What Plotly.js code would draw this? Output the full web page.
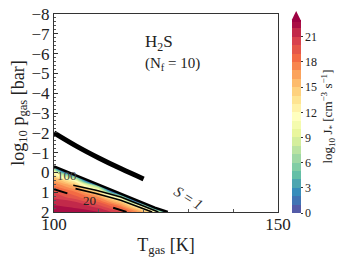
<!DOCTYPE html>
<html>
<head>
<meta charset="utf-8">
<script src="https://cdn.plot.ly/plotly-3.0.1.min.js"></script>
<style>html,body{margin:0;padding:0;background:#fff;}#chart{width:349px;height:262px;}</style>
</head>
<body>
<div id="chart"></div>
<script>
// Temperature grid [K] and log10 pressure grid [bar]
const tempGrid = [100, 105, 110, 115, 120, 122.5, 125, 130];
const pressGrid = [-0.75, -0.5, -0.25, 0, 0.25, 0.5, 0.75, 1, 1.25, 1.5, 1.75, 2];
// log10 J* (negative = no nucleation, masked)
const logJ = [
  [-27, -30, -30, -30, -30, -30, -30, -30],
  [-12, -30, -30, -30, -30, -30, -30, -30],
  [3, -25, -30, -30, -30, -30, -30, -30],
  [12, -10, -30, -30, -30, -30, -30, -30],
  [15, 5, -23, -30, -30, -30, -30, -30],
  [17, 12.9, -8, -30, -30, -30, -30, -30],
  [18.5, 16, 7.4, -21, -30, -30, -30, -30],
  [20, 18, 14, -6, -30, -30, -30, -30],
  [20.8, 19.3, 17, 9.1, -18.6, -30, -30, -30],
  [21.5, 21, 19, 15, -3.6, -17, -28, -30],
  [22.3, 21.8, 20.7, 18, 11.4, -1.8, -13, -30],
  [23, 22.6, 22.1, 20.1, 15.8, 12.6, 2.2, -27]
];
// edge of the nucleation region
const boundaryT = [100, 105, 110, 115, 120, 122.5, 125.4];
const boundaryP = [-0.3, 0.17, 0.63, 1.10, 1.56, 1.78, 2.0];
// thick black curve
const thickT = [100, 105, 110, 115, 120];
const thickP = [-2.0, -1.33, -0.73, -0.18, 0.33];
// inner contour lines
const lineAT = [104.3, 109.4, 114.9, 123.3];
const lineAP = [0.65, 0.9, 1.24, 2.0];
const lineBT = [104.8, 109.4, 114.9, 121.9];
const lineBP = [0.82, 1.07, 1.41, 2.0];
const dashT = [100, 116.3];
const dashP = [0.85, 2.0];
const cbTicks = [0, 3, 6, 9, 12, 15, 18, 21];

const serif = "Liberation Serif, DejaVu Serif, serif";
const spectralR = [[0,'#5e4fa2'],[0.1,'#3288bd'],[0.2,'#66c2a5'],[0.3,'#abdda4'],[0.4,'#e6f598'],[0.5,'#ffffbf'],[0.6,'#fee08b'],[0.7,'#fdae61'],[0.8,'#f46d43'],[0.9,'#d53e4f'],[1,'#9e0142']];

const px = v => (v - 54) / 228;
const py = v => (212 - v) / 198;

const traces = [
  {
    type: 'contour', x: tempGrid, y: pressGrid, z: logJ,
    colorscale: spectralR, zmin: 0, zmax: 23,
    contours: {coloring: 'fill', start: 0, end: 23, size: 1, showlines: false},
    line: {width: 0},
    hoverinfo: 'skip',
    colorbar: {
      thickness: 9, thicknessmode: 'pixels', len: 193, lenmode: 'pixels',
      x: px(296), xanchor: 'left', y: py(213), yanchor: 'bottom', xpad: 0, ypad: 0,
      tickvals: cbTicks, ticks: 'outside', ticklen: 2, tickcolor: '#333',
      tickfont: {family: serif, size: 12, color: '#222'},
      outlinewidth: 0,
      title: {text: 'log<sub>10</sub> J<sub>*</sub> [cm<sup>\u22123</sup> s<sup>\u22121</sup>]', side: 'right', font: {family: serif, size: 13, color: '#222'}}
    }
  },
  {
    type: 'scatter', mode: 'lines', hoverinfo: 'skip',
    x: boundaryT.concat([126, 151, 151, 99, 99]),
    y: boundaryP.concat([2.3, 2.3, -8.5, -8.5, boundaryP[0]]),
    fill: 'toself', fillcolor: '#ffffff', line: {width: 0}
  },
  {type: 'scatter', mode: 'lines', x: boundaryT, y: boundaryP, line: {color: '#000', width: 2.5}, hoverinfo: 'skip'},
  {type: 'scatter', mode: 'lines', x: lineAT, y: lineAP, line: {color: '#000', width: 1.6}, hoverinfo: 'skip'},
  {type: 'scatter', mode: 'lines', x: lineBT, y: lineBP, line: {color: '#000', width: 1.6}, hoverinfo: 'skip'},
  {type: 'scatter', mode: 'lines', x: dashT, y: dashP, line: {color: '#000', width: 2, dash: '14px,48px'}, hoverinfo: 'skip'},
  {type: 'scatter', mode: 'lines', x: thickT, y: thickP, line: {color: '#000', width: 5, shape: 'spline'}, hoverinfo: 'skip'}
];

const layout = {
  width: 349, height: 262,
  margin: {l: 54, r: 67, t: 14, b: 50},
  paper_bgcolor: '#fff', plot_bgcolor: '#fff',
  showlegend: false,
  font: {family: serif, color: '#222'},
  xaxis: {
    range: [100, 150], tickvals: [100, 150], ticks: 'inside', ticklen: 4, tickcolor: '#333',
    showline: true, mirror: true, linecolor: '#333', linewidth: 1,
    showgrid: false, zeroline: false, ticklabelstandoff: -3,
    tickfont: {family: serif, size: 17, color: '#222'},
    minor: {tickvals: [110, 120, 130, 140], ticks: 'inside', ticklen: 3, tickcolor: '#555'},
    title: {text: 'T<sub>gas</sub> [K]', font: {family: serif, size: 18, color: '#222'}, standoff: 4}
  },
  yaxis: {
    range: [2, -8], dtick: 1, ticks: 'inside', ticklen: 4, tickcolor: '#333',
    showline: true, mirror: true, linecolor: '#333', linewidth: 1,
    showgrid: false, zeroline: false,
    tickfont: {family: serif, size: 17, color: '#222'},
    minor: {dtick: 0.2, ticks: 'inside', ticklen: 2, tickcolor: '#555'},
    title: {text: 'log<sub>10</sub> p<sub>gas</sub> [bar]', font: {family: serif, size: 18, color: '#222'}, standoff: 2}
  },
  shapes: [
    {type: 'path', xref: 'paper', yref: 'paper',
     path: 'M' + px(296) + ',' + py(20) + ' L' + px(305) + ',' + py(20) + ' L' + px(300.5) + ',' + py(11) + ' Z',
     fillcolor: '#9e0142', line: {width: 0}}
  ],
  annotations: [
    {xref: 'paper', yref: 'paper', x: px(145), y: py(43), xanchor: 'left', yanchor: 'middle', showarrow: false,
     text: 'H<sub>2</sub>S', font: {family: serif, size: 17, color: '#222'}},
    {xref: 'paper', yref: 'paper', x: px(145), y: py(64), xanchor: 'left', yanchor: 'middle', showarrow: false,
     text: '(N<sub>f</sub> = 10)', font: {family: serif, size: 15, color: '#222'}},
    {xref: 'paper', yref: 'paper', x: px(191), y: py(198), xanchor: 'center', yanchor: 'middle', showarrow: false, textangle: 32,
     text: '<i>S</i> = <i>1</i>', font: {family: serif, size: 15, color: '#333'}},
    {xref: 'x', yref: 'y', x: 102.85, y: 0.18, showarrow: false,
     text: '100', font: {family: serif, size: 13, color: '#444'}},
    {xref: 'x', yref: 'y', x: 107.9, y: 1.44, showarrow: false,
     text: '20', font: {family: serif, size: 13, color: '#222'}}
  ]
};

Plotly.newPlot('chart', traces, layout, {staticPlot: true, displayModeBar: false});
</script>
</body>
</html>
